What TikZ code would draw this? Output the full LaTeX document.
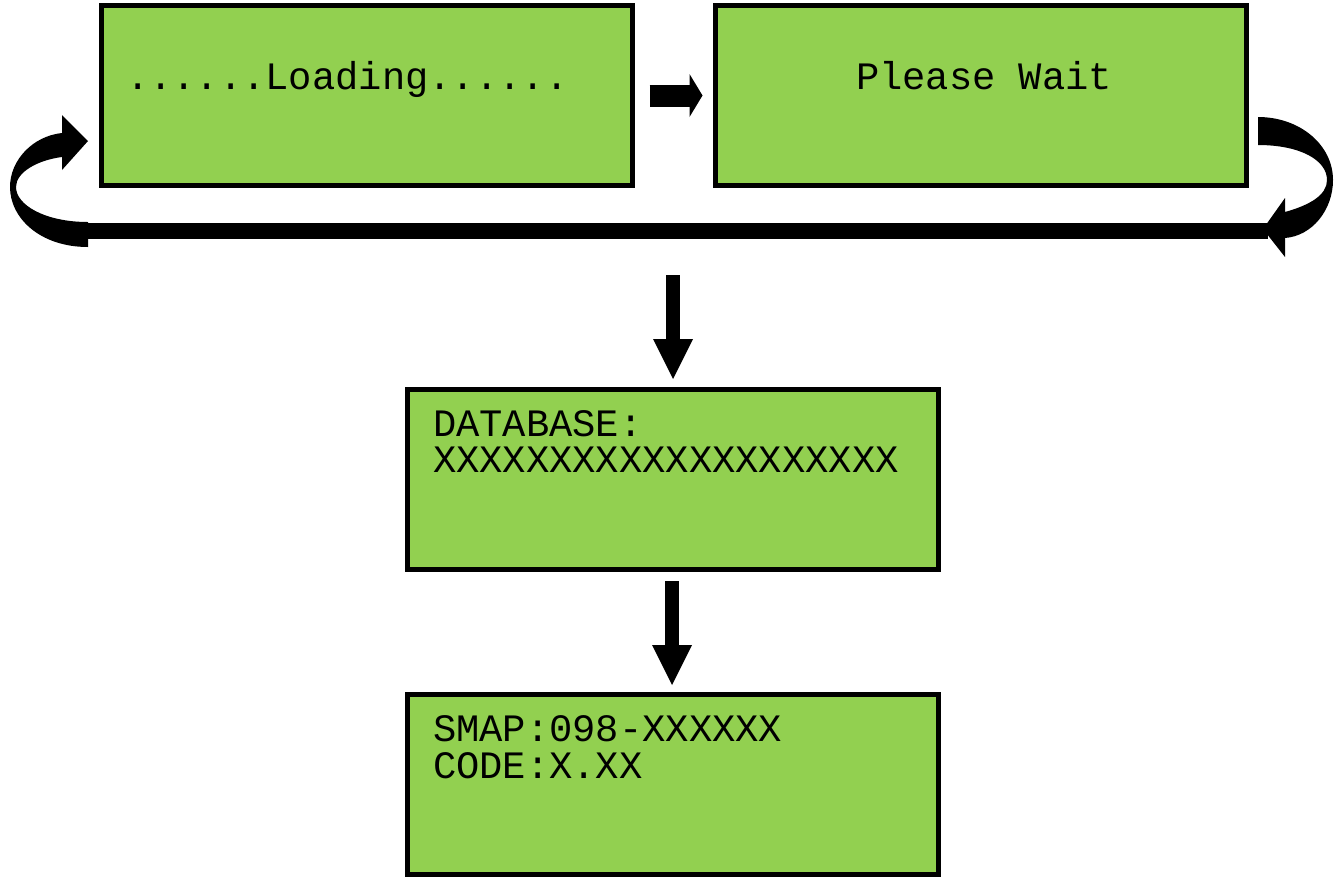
\documentclass[tikz,border=0pt]{standalone}
\usepackage{fontspec}
\newfontfamily\lcdfont{Liberation Mono}
\usetikzlibrary{arrows.meta,calc}
\definecolor{lcdgreen}{HTML}{92D050}
\tikzset{
  lcdbox/.style={draw=black, line width=5pt, fill=lcdgreen, minimum width=531pt, minimum height=180pt, inner sep=0pt, outer sep=0pt},
  lcdtext/.style={inner sep=0pt, outer sep=0pt, anchor=base west, font=\lcdfont\fontsize{38.8}{36}\selectfont},
  fatarrow/.style={line width=14pt, -{Triangle[length=40pt,width=40pt,line width=0pt 0 1]}},
  stubarrow/.style={line width=22pt, -{Triangle[length=13pt,width=43pt,line width=0pt 0 1]}},
  loopshape/.style={fill=black}
}
\begin{document}
\begin{tikzpicture}[x=1pt,y=-1pt]
\useasboundingbox (0,0) rectangle (1343,876);
% boxes
\node[lcdbox] (b1) at (367,95.5) {};
\node[lcdbox] (b2) at (981,95.5) {};
\node[lcdbox] (b3) at (673,479) {};
\node[lcdbox] (b4) at (673,784) {};
% texts
\node[lcdtext] (t1) at (126,89) {......Loading......};
\node[lcdtext] (t2) at (856,89) {Please Wait};
\node[lcdtext] (t3) at (433,436) {DATABASE:};
\node[lcdtext] (t4) at (433,472) {XXXXXXXXXXXXXXXXXXXX};
\node[lcdtext] (t5) at (433,741) {SMAP:098-XXXXXX};
\node[lcdtext] (t6) at (433,778) {CODE:X.XX};
% small arrow between first two screens
\coordinate (s1) at ($(b1.east)+(17,0)$);
\coordinate (s2) at ($(b2.west)+(-13,0)$);
\draw[stubarrow] (s1) -- (s2);
% loop bar and curved arrows
\fill[loopshape] (88,223) rectangle (1268,239);
\fill[loopshape] (88,247) .. controls (40,247) and (10,218) .. (10,187)
  .. controls (10,160) and (33,136) .. (62,133) -- (62,115) -- (88,141) -- (62,170) -- (62,157)
  .. controls (38,160) and (16,172) .. (16,187)
  .. controls (16,205) and (45,222) .. (88,222) -- cycle;
\fill[loopshape] (1258,117) .. controls (1300,117) and (1333,145) .. (1333,180)
  .. controls (1333,210) and (1312,236) .. (1285,238) -- (1285,257) -- (1263,229) -- (1285,198) -- (1285,212)
  .. controls (1310,205) and (1327,195) .. (1327,180)
  .. controls (1327,160) and (1300,145) .. (1258,145) -- cycle;
% down arrows
\coordinate (d1s) at (673,275);
\coordinate (d1e) at ($(b3.north)+(0,-10)$);
\draw[fatarrow] (d1s) -- (d1e);
\coordinate (d2s) at ($(b3.south)+(-1,12)$);
\coordinate (d2e) at ($(b4.north)+(-1,-9)$);
\draw[fatarrow] (d2s) -- (d2e);
\end{tikzpicture}
\end{document}
